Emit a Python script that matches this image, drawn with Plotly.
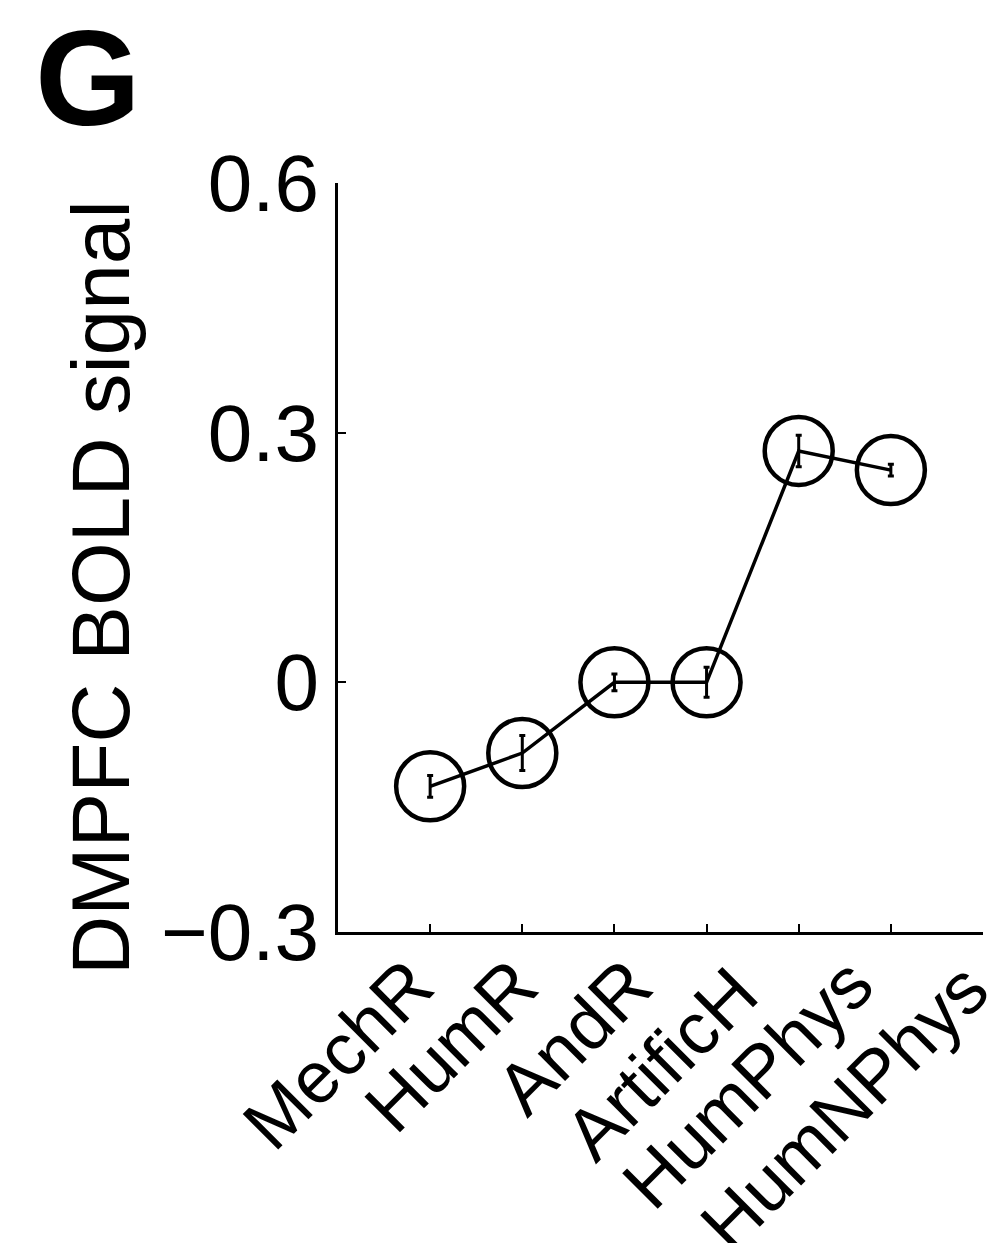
import plotly.graph_objects as go

categories = ["MechR", "HumR", "AndR", "ArtificH", "HumPhys", "HumNPhys"]
positions = [1, 2, 3, 4, 5, 6]
values = [-0.125, -0.085, 0.0, 0.0, 0.278, 0.255]
errors = [0.013, 0.021, 0.010, 0.018, 0.019, 0.007]
y_ticks = [-0.3, 0, 0.3, 0.6]
y_tick_text = ["\u22120.3", "0", "0.3", "0.6"]

FONT = "Liberation Sans, Arial, sans-serif"

# plot area in pixels (for paper-coordinate conversions)
PL, PR, PT, PB = 338, 983, 183, 932
def px_x(px):
    return (px - PL) / (PR - PL)
def px_y(py):
    return (PB - py) / (PB - PT)

# pixel offsets of each rotated category label's centre from its tick (layout only)
label_dx = [-93, -72, -41, -46, -52, -47]
label_dy = [-122, -113, -104, -131, -151, -174]

fig = go.Figure()
fig.add_trace(go.Scatter(
    x=positions, y=values,
    mode="lines+markers",
    line=dict(color="black", width=3.5),
    marker=dict(symbol="circle-open", size=68, color="black",
                line=dict(color="black", width=4.5)),
    error_y=dict(type="data", array=errors, visible=True,
                 color="black", thickness=3, width=3),
    showlegend=False,
))

annotations = [
    dict(
        text="<b>G</b>", xref="paper", yref="paper",
        x=px_x(33), y=px_y(0), xanchor="left", yanchor="top",
        showarrow=False,
        font=dict(size=136, family=FONT, color="black"),
    ),
    dict(
        text="DMPFC BOLD signal", xref="paper", yref="paper",
        x=px_x(100), y=px_y(588), xanchor="center", yanchor="middle",
        textangle=-90, showarrow=False,
        font=dict(size=82, family=FONT, color="black"),
    ),
]
for cat, pos, dx, dy in zip(categories, positions, label_dx, label_dy):
    annotations.append(dict(
        text=cat, xref="x", yref="y", x=pos, y=-0.3,
        xshift=dx, yshift=dy, xanchor="center", yanchor="middle",
        textangle=-45, showarrow=False, borderpad=0,
        font=dict(size=73, family=FONT, color="black"),
    ))

fig.update_layout(
    width=1000, height=1243,
    margin=dict(l=PL, r=1000 - PR, t=PT, b=1243 - PB, autoexpand=False),
    paper_bgcolor="white", plot_bgcolor="white",
    font=dict(family=FONT, color="black"),
    xaxis=dict(
        range=[0, 7],
        tickvals=positions + [7],
        showticklabels=False,
        automargin=False,
        ticks="inside", ticklen=8, tickwidth=2, tickcolor="black",
        showline=True, linecolor="black", linewidth=3,
        showgrid=False, zeroline=False,
    ),
    yaxis=dict(
        range=[-0.3, 0.6],
        tickvals=y_ticks,
        ticktext=y_tick_text,
        automargin=False,
        ticks="inside", ticklen=8, tickwidth=2, tickcolor="black",
        showline=True, linecolor="black", linewidth=3,
        showgrid=False, zeroline=False,
        tickfont=dict(size=80, family=FONT, color="black"),
    ),
    annotations=annotations,
)

fig.write_html("out.html")
